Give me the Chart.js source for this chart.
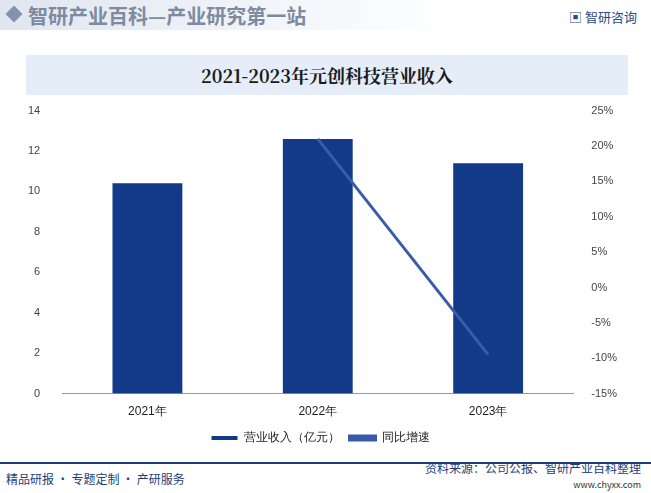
<!DOCTYPE html>
<html><head><meta charset="utf-8">
<script src="https://cdn.jsdelivr.net/npm/chart.js@4"></script>
<style>
body{margin:0;width:651px;height:493px;position:relative;background:#fff;font-family:"Noto Sans CJK SC",sans-serif;overflow:hidden}
#hdr{position:absolute;left:0;top:0;width:651px;height:30px;background:linear-gradient(90deg,#dfe6f0,#fff 70%)}
#hdr .t{position:absolute;left:28px;top:1px;font-size:20px;font-weight:bold;color:#7d8aa0}
#hdr .sq{position:absolute;left:8px;top:8px;width:12px;height:12px;background:#8393ad;transform:rotate(45deg)}
#hdr .r{position:absolute;right:14px;top:7px;font-size:13px;color:#2c4c86}
#title{position:absolute;left:26px;top:55px;width:602px;height:40px;background:#e5edf8;text-align:center;line-height:40px;font-size:18px;font-weight:bold;color:#1a1a1a;font-family:"Noto Serif CJK SC","Noto Sans CJK SC",serif}
#wrap{position:absolute;left:0;top:90px;width:651px;height:364px}
#line{position:absolute;left:0;top:462px;width:651px;height:2px;background:#1d3d7a}
#fl{position:absolute;left:6px;top:470px;font-size:12px;color:#1d3d7a}
#fr{position:absolute;right:10px;top:459px;font-size:12px;color:#1d3d7a;text-align:right}
#fr small{display:block;font-size:9px;color:#333;margin-top:2px}
</style></head><body>
<div id="hdr"><div class="sq"></div><div class="t">智研产业百科—产业研究第一站</div><div class="r">▣ 智研咨询</div></div>
<div id="title">2021-2023年元创科技营业收入</div>
<div id="wrap"><canvas id="c"></canvas></div>
<div id="line"></div>
<div id="fl">精品研报 · 专题定制 · 产研服务</div>
<div id="fr">资料来源：公司公报、智研产业百科整理<small>www.chyxx.com</small></div>
<script>
const years = ["2021年", "2022年", "2023年"];
const revenue = [10.4, 12.6, 11.4];
const growth = [null, 21.0, -9.5];

new Chart(document.getElementById("c"), {
  data: {
    labels: years,
    datasets: [
      { type: "line", label: "同比增速", data: growth, yAxisID: "y1",
        borderColor: "#3a5ca8", backgroundColor: "#3a5ca8", borderWidth: 3, pointRadius: 0, order: 0 },
      { type: "bar", label: "营业收入（亿元）", data: revenue, yAxisID: "y",
        backgroundColor: "#123a88", barPercentage: 0.41, categoryPercentage: 1, order: 1 }
    ]
  },
  options: {
    responsive: true, maintainAspectRatio: false, animation: false,
    layout: { padding: { left: 14, right: 24, top: 14 } },
    plugins: {
      legend: { position: "bottom", reverse: true,
        labels: { boxWidth: 26, boxHeight: 4, font: { size: 12 }, color: "#222", padding: 10 } },
      tooltip: { enabled: false }
    },
    scales: {
      x: { grid: { display: false }, border: { color: "#999" },
        ticks: { color: "#222", font: { size: 12 } } },
      y: { min: 0, max: 14, ticks: { stepSize: 2, color: "#444", font: { size: 11 }, padding: 14 },
        grid: { display: false }, border: { display: false } },
      y1: { position: "right", min: -15, max: 25,
        ticks: { stepSize: 5, color: "#444", font: { size: 11 }, padding: 10, callback: v => v + "%" },
        grid: { display: false }, border: { display: false } }
    }
  }
});
</script>
</body></html>
